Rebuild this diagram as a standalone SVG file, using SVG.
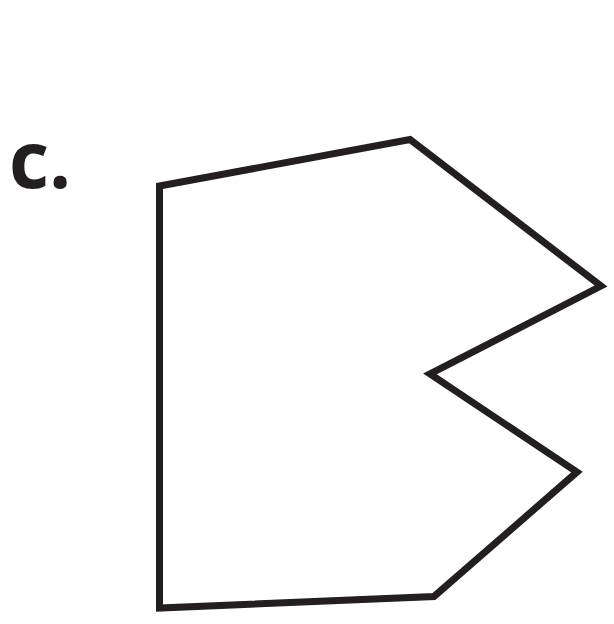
<svg xmlns="http://www.w3.org/2000/svg" width="614" height="624" viewBox="0 0 614 624">
<style>
.shape{fill:none;stroke:#231f20;stroke-width:7;stroke-linejoin:miter;stroke-miterlimit:10}
.lbl{font-family:"Open Sans","Liberation Sans",sans-serif;font-weight:bold;font-size:78px;fill:#231f20}
</style>
<rect width="614" height="624" fill="#ffffff"/>
<g id="label"><text class="lbl" x="9" y="188">c.</text></g>
<g id="polygon"><polygon class="shape" points="159.5,186 410,139.5 601,286 430,374 577,472 434,596.5 159.5,608"/></g>
</svg>
